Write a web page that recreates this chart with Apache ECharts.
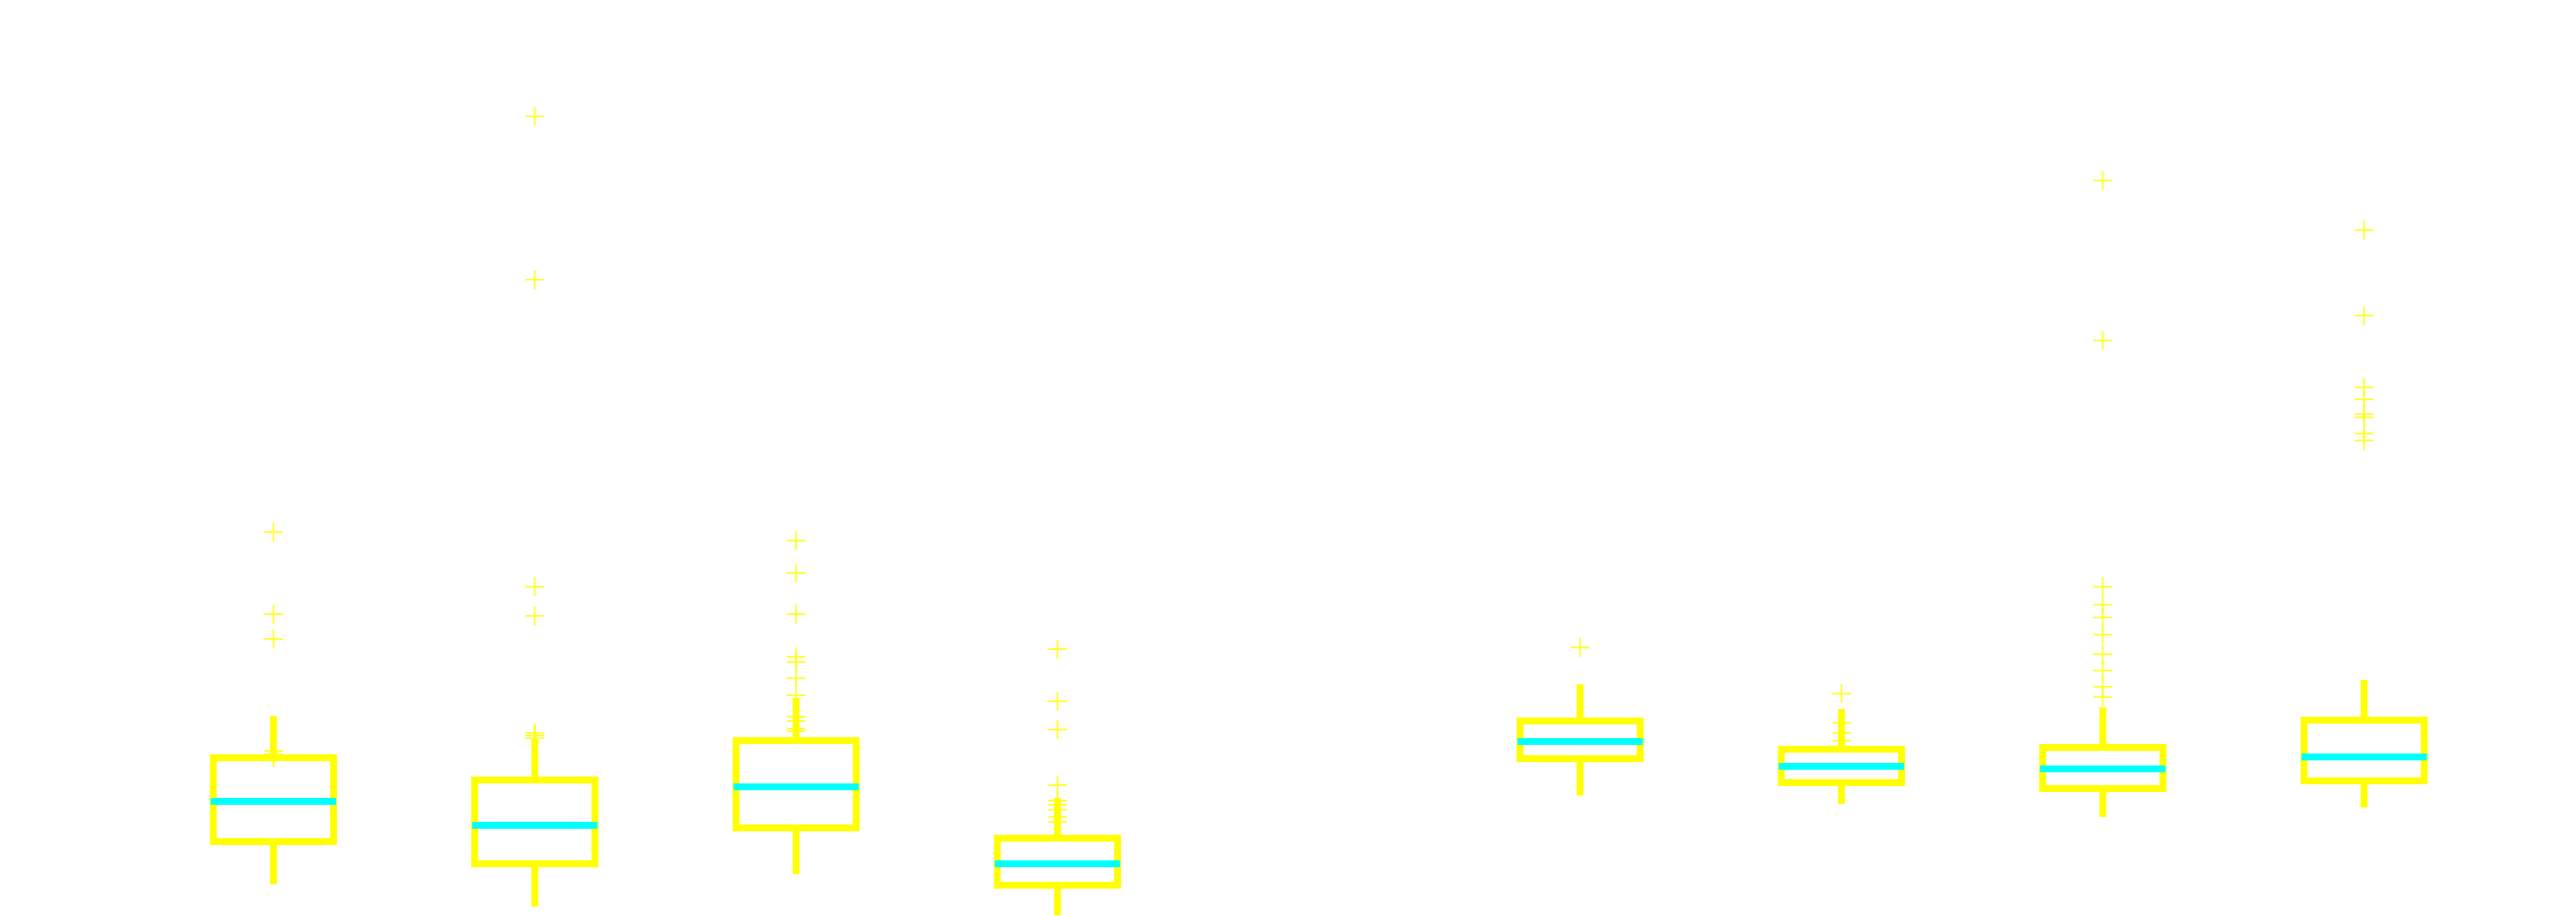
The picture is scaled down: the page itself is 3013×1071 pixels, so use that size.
<!DOCTYPE html>
<html>
<head>
<meta charset="utf-8">
<script src="https://cdn.jsdelivr.net/npm/echarts@6/dist/echarts.min.js"></script>
<style>html,body{margin:0;padding:0;background:#fff}#chart{width:3013px;height:1071px}</style>
</head>
<body>
<div id="chart"></div>
<script>
var categories = ['1', '2', '3', '4', '5', '6', '7', '8', '9'];
// [whiskerLow, q1, median, q3, whiskerHigh]; null = empty slot
var boxes = [
  [37, 87, 134, 185, 234],
  [11, 61, 106, 159, 207],
  [49, 103, 151, 205, 255],
  [1, 36, 61, 91, 138],
  null,
  [141, 184, 204, 228, 271],
  [131, 156, 175, 195, 242],
  [116, 149, 172, 197, 244],
  [127, 158, 186, 229, 276]
];
var outliers = [
  [185, 189, 193, 324, 353, 449],
  [208, 211, 214, 351, 385, 744, 935],
  [216, 219, 228, 233, 258, 278, 297, 303, 353, 401, 439],
  [110, 116, 124, 130, 135, 153, 218, 251, 312],
  [],
  [314],
  [205, 214, 226, 260],
  [256, 268, 287, 306, 329, 349, 364, 385, 673, 860],
  [556, 564, 583, 587, 604, 618, 702, 802]
];

var boxData = [];
boxes.forEach(function (b, i) { if (b) boxData.push([i].concat(b)); });
var outlierData = [];
outliers.forEach(function (list, i) { list.forEach(function (v) { outlierData.push([i, v]); }); });

var chart = echarts.init(document.getElementById('chart'));
chart.setOption({
  backgroundColor: '#ffffff',
  animation: false,
  grid: { left: 167, right: 95, top: 0, bottom: 0 },
  xAxis: { type: 'category', data: categories, show: false },
  yAxis: { type: 'value', min: 0, max: 1071, show: false },
  series: [
    {
      type: 'custom',
      data: boxData,
      encode: { x: 0, y: [1, 2, 3, 4, 5] },
      renderItem: function (params, api) {
        var i = api.value(0);
        var x = api.coord([i, 0])[0];
        var half = api.size([1, 0])[0] * 0.23;
        var lo = api.coord([i, api.value(1)])[1];
        var q1 = api.coord([i, api.value(2)])[1];
        var md = api.coord([i, api.value(3)])[1];
        var q3 = api.coord([i, api.value(4)])[1];
        var hi = api.coord([i, api.value(5)])[1];
        var ys = { stroke: '#ffff00', lineWidth: 8, fill: null };
        return {
          type: 'group',
          children: [
            { type: 'rect', shape: { x: x - half, y: q3, width: half * 2, height: q1 - q3 }, style: ys },
            { type: 'line', shape: { x1: x, y1: q3, x2: x, y2: hi }, style: ys },
            { type: 'line', shape: { x1: x, y1: q1, x2: x, y2: lo }, style: ys },
            { type: 'line', shape: { x1: x - half - 3, y1: md, x2: x + half + 3, y2: md }, style: { stroke: '#00ffff', lineWidth: 8 } }
          ]
        };
      }
    },
    {
      type: 'scatter',
      data: outlierData,
      symbol: 'path://M0,-1L0,1M-1,0L1,0',
      symbolSize: 22,
      itemStyle: { color: 'none', borderColor: '#ffff00', borderWidth: 2 }
    }
  ]
});
</script>
</body>
</html>
